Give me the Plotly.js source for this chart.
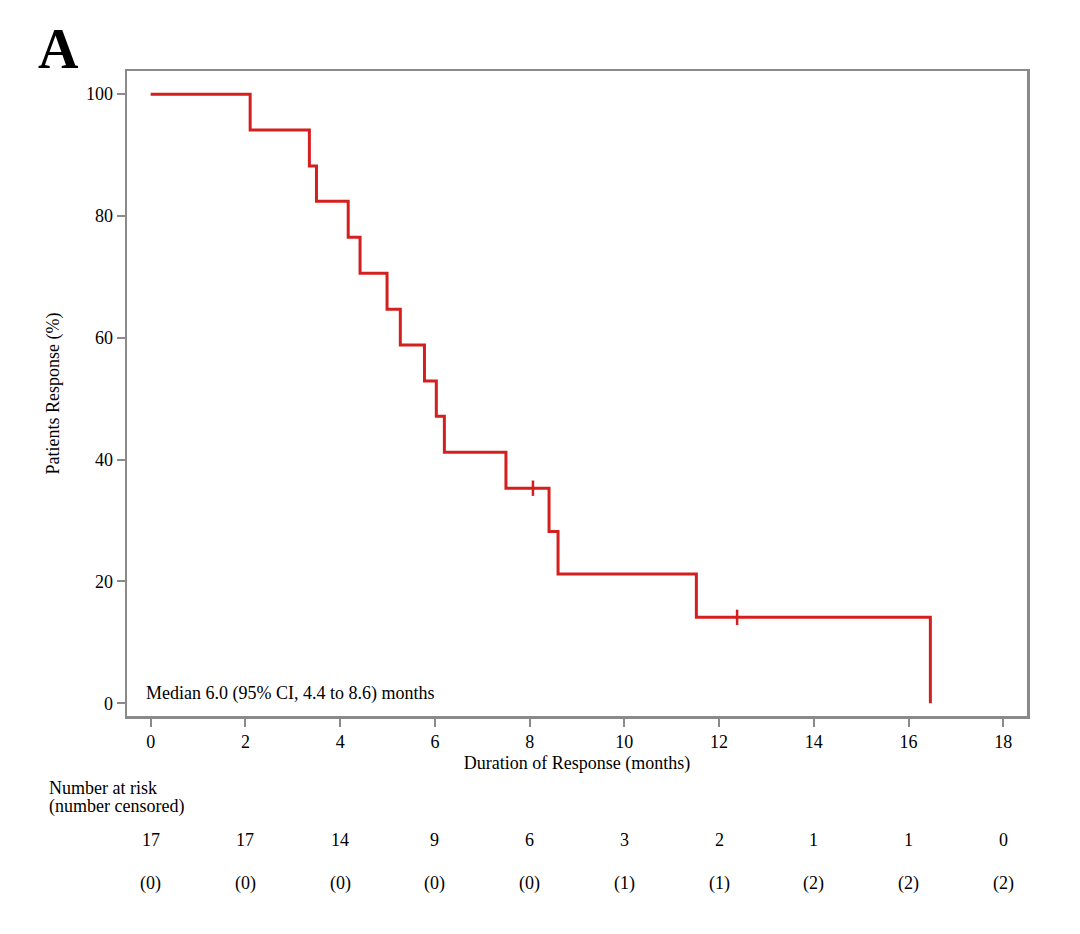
<!DOCTYPE html>
<html>
<head>
<meta charset="utf-8">
<script src="https://cdn.plot.ly/plotly-3.0.1.min.js"></script>
<style>html,body{margin:0;padding:0;background:#fff;}#chart{width:1080px;height:934px;}</style>
</head>
<body>
<div id="chart"></div>
<script>
// Kaplan-Meier step data (event times in months, survival %)
var stepTimes = [0, 2.10, 3.35, 3.50, 4.17, 4.42, 4.99, 5.27, 5.78, 6.03, 6.20, 7.50, 8.41, 8.60, 11.52, 16.46];
var stepSurvival = [100, 94.1, 88.2, 82.4, 76.5, 70.6, 64.7, 58.8, 52.9, 47.1, 41.2, 35.3, 28.2, 21.2, 14.1, 0];
// Censored observations
var censorTimes = [8.07, 12.38];
var censorSurvival = [35.3, 14.1];
// Number at risk table
var riskTimes = [0, 2, 4, 6, 8, 10, 12, 14, 16, 18];
var atRisk = [17, 17, 14, 9, 6, 3, 2, 1, 1, 0];
var censoredCum = [0, 0, 0, 0, 0, 1, 1, 2, 2, 2];
var xTicks = [0, 2, 4, 6, 8, 10, 12, 14, 16, 18];
var yTicks = [0, 20, 40, 60, 80, 100];

var red = '#d41f1f';
var serif = 'Liberation Serif, Times New Roman, serif';
var ink = '#000';
var fs = 18;

var traces = [
  {x: stepTimes, y: stepSurvival, type: 'scatter', mode: 'lines',
   line: {shape: 'hv', color: red, width: 3}, hoverinfo: 'skip'},
  {x: censorTimes, y: censorSurvival, type: 'scatter', mode: 'markers',
   marker: {symbol: 'line-ns', size: 11, line: {color: red, width: 2.5}}, hoverinfo: 'skip'}
];

// plot area spans x 127..1027 px, y 71..716 px
function paperY(py) { return (716 - py) / 645; }
function paperX(px) { return (px - 127) / 900; }
var annotations = [];
for (var i = 0; i < riskTimes.length; i++) {
  annotations.push({x: riskTimes[i], y: paperY(840), xref: 'x', yref: 'paper', text: String(atRisk[i]),
    showarrow: false, xanchor: 'center', yanchor: 'middle', font: {family: serif, size: fs, color: ink}});
  annotations.push({x: riskTimes[i], y: paperY(883), xref: 'x', yref: 'paper', text: '(' + censoredCum[i] + ')',
    showarrow: false, xanchor: 'center', yanchor: 'middle', font: {family: serif, size: fs, color: ink}});
}
annotations.push({x: paperX(47), y: paperY(788), xref: 'paper', yref: 'paper', text: 'Number at risk',
  showarrow: false, xanchor: 'left', yanchor: 'middle', font: {family: serif, size: fs, color: ink}});
annotations.push({x: paperX(47), y: paperY(806), xref: 'paper', yref: 'paper', text: '(number censored)',
  showarrow: false, xanchor: 'left', yanchor: 'middle', font: {family: serif, size: fs, color: ink}});
annotations.push({x: paperX(144), y: paperY(693), xref: 'paper', yref: 'paper', text: 'Median 6.0 (95% CI, 4.4 to 8.6) months',
  showarrow: false, xanchor: 'left', yanchor: 'middle', font: {family: serif, size: fs, color: ink}});
annotations.push({x: paperX(36), y: paperY(49), xref: 'paper', yref: 'paper', text: '<b>A</b>',
  showarrow: false, xanchor: 'left', yanchor: 'middle', font: {family: serif, size: 56, color: ink}});

var layout = {
  width: 1080, height: 934,
  margin: {l: 127, r: 53, t: 71, b: 218},
  paper_bgcolor: '#fff', plot_bgcolor: '#fff',
  showlegend: false,
  font: {family: serif, size: fs, color: ink},
  xaxis: {
    range: [-0.5, 18.5], tickvals: xTicks, ticktext: xTicks.map(String),
    showgrid: false, zeroline: false,
    showline: true, linecolor: '#8a8a8a', linewidth: 2.5, mirror: true,
    ticks: 'outside', ticklen: 8, tickwidth: 2, tickcolor: '#8a8a8a',
    tickfont: {family: serif, size: fs, color: ink},
    title: {text: 'Duration of Response (months)', font: {family: serif, size: fs, color: ink}, standoff: 6}
  },
  yaxis: {
    range: [-2.1, 103.8], tickvals: yTicks, ticktext: yTicks.map(String),
    showgrid: false, zeroline: false,
    showline: true, linecolor: '#8a8a8a', linewidth: 2.5, mirror: true,
    ticks: 'outside', ticklen: 8, tickwidth: 2, tickcolor: '#8a8a8a',
    tickfont: {family: serif, size: fs, color: ink},
    title: {text: 'Patients Response (%)', font: {family: serif, size: fs, color: ink}, standoff: 22}
  },
  annotations: annotations
};

Plotly.newPlot('chart', traces, layout, {displayModeBar: false, staticPlot: true});
</script>
</body>
</html>
